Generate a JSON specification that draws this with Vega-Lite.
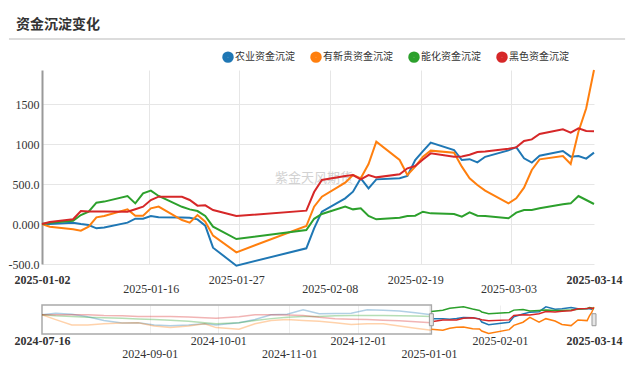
{
"$schema": "https://vega.github.io/schema/vega-lite/v6.json",
"background": "#ffffff",
"padding": {"left": 8, "top": 18, "right": 4, "bottom": 0},
"title": {"text": "资金沉淀变化", "anchor": "start", "frame": "bounds", "font": "Noto Sans CJK SC", "fontSize": 14, "fontWeight": "bold", "color": "#333333", "offset": 6, "dx": 8},
"config": {
  "view": {"stroke": null},
  "axis": {"labelFont": "Liberation Sans Narrow", "labelFontSize": 12, "labelColor": "#333333", "domain": false, "ticks": false, "grid": false, "labelFlush": false, "labelOverlap": false}
},
"datasets": {
  "main": [
    {"date":"2025-01-02","农业资金沉淀":0,"有新贵资金沉淀":0,"能化资金沉淀":0,"黑色资金沉淀":0},
    {"date":"2025-01-03","农业资金沉淀":0,"有新贵资金沉淀":-35,"能化资金沉淀":15,"黑色资金沉淀":25},
    {"date":"2025-01-06","农业资金沉淀":15,"有新贵资金沉淀":-65,"能化资金沉淀":40,"黑色资金沉淀":60},
    {"date":"2025-01-07","农业资金沉淀":0,"有新贵资金沉淀":-83,"能化资金沉淀":112,"黑色资金沉淀":162},
    {"date":"2025-01-08","农业资金沉淀":-12,"有新贵资金沉淀":-33,"能化资金沉淀":154,"黑色资金沉淀":155},
    {"date":"2025-01-09","农业资金沉淀":-54,"有新贵资金沉淀":83,"能化资金沉淀":267,"黑色资金沉淀":155},
    {"date":"2025-01-10","农业资金沉淀":-45,"有新贵资金沉淀":100,"能化资金沉淀":280,"黑色资金沉淀":155},
    {"date":"2025-01-13","农业资金沉淀":17,"有新贵资金沉淀":183,"能化资金沉淀":350,"黑色资金沉淀":154},
    {"date":"2025-01-14","农业资金沉淀":67,"有新贵资金沉淀":104,"能化资金沉淀":258,"黑色资金沉淀":185},
    {"date":"2025-01-15","农业资金沉淀":67,"有新贵资金沉淀":104,"能化资金沉淀":383,"黑色资金沉淀":217},
    {"date":"2025-01-16","农业资金沉淀":100,"有新贵资金沉淀":196,"能化资金沉淀":417,"黑色资金沉淀":300},
    {"date":"2025-01-17","农业资金沉淀":83,"有新贵资金沉淀":217,"能化资金沉淀":350,"黑色资金沉淀":342},
    {"date":"2025-01-20","农业资金沉淀":80,"有新贵资金沉淀":50,"能化资金沉淀":215,"黑色资金沉淀":340},
    {"date":"2025-01-21","农业资金沉淀":79,"有新贵资金沉淀":17,"能化资金沉淀":183,"黑色资金沉淀":300},
    {"date":"2025-01-22","农业资金沉淀":58,"有新贵资金沉淀":112,"能化资金沉淀":162,"黑色资金沉淀":229},
    {"date":"2025-01-23","农业资金沉淀":-21,"有新贵资金沉淀":29,"能化资金沉淀":100,"黑色资金沉淀":233},
    {"date":"2025-01-24","农业资金沉淀":-296,"有新贵资金沉淀":-146,"能化资金沉淀":-33,"黑色资金沉淀":175},
    {"date":"2025-01-27","农业资金沉淀":-521,"有新贵资金沉淀":-354,"能化资金沉淀":-188,"黑色资金沉淀":100},
    {"date":"2025-02-05","农业资金沉淀":-304,"有新贵资金沉淀":-25,"能化资金沉淀":-75,"黑色资金沉淀":167},
    {"date":"2025-02-06","农业资金沉淀":-54,"有新贵资金沉淀":217,"能化资金沉淀":65,"黑色资金沉淀":400},
    {"date":"2025-02-07","农业资金沉淀":154,"有新贵资金沉淀":342,"能化资金沉淀":125,"黑色资金沉淀":550},
    {"date":"2025-02-10","农业资金沉淀":321,"有新贵资金沉淀":517,"能化资金沉淀":217,"黑色资金沉淀":600},
    {"date":"2025-02-11","农业资金沉淀":404,"有新贵资金沉淀":612,"能化资金沉淀":183,"黑色资金沉淀":612},
    {"date":"2025-02-12","农业资金沉淀":571,"有新贵资金沉淀":571,"能化资金沉淀":196,"黑色资金沉淀":558},
    {"date":"2025-02-13","农业资金沉淀":446,"有新贵资金沉淀":750,"能化资金沉淀":100,"黑色资金沉淀":612},
    {"date":"2025-02-14","农业资金沉淀":558,"有新贵资金沉淀":1029,"能化资金沉淀":58,"黑色资金沉淀":583},
    {"date":"2025-02-17","农业资金沉淀":571,"有新贵资金沉淀":800,"能化资金沉淀":79,"黑色资金沉淀":621},
    {"date":"2025-02-18","农业资金沉淀":600,"有新贵资金沉淀":612,"能化资金沉淀":100,"黑色资金沉淀":696},
    {"date":"2025-02-19","农业资金沉淀":800,"有新贵资金沉淀":717,"能化资金沉淀":104,"黑色资金沉淀":725},
    {"date":"2025-02-20","农业资金沉淀":910,"有新贵资金沉淀":842,"能化资金沉淀":154,"黑色资金沉淀":805},
    {"date":"2025-02-21","农业资金沉淀":1017,"有新贵资金沉淀":917,"能化资金沉淀":133,"黑色资金沉淀":883},
    {"date":"2025-02-24","农业资金沉淀":925,"有新贵资金沉淀":892,"能化资金沉淀":125,"黑色资金沉淀":842},
    {"date":"2025-02-25","农业资金沉淀":800,"有新贵资金沉淀":717,"能化资金沉淀":92,"黑色资金沉淀":845},
    {"date":"2025-02-26","农业资金沉淀":810,"有新贵资金沉淀":571,"能化资金沉淀":146,"黑色资金沉淀":865},
    {"date":"2025-02-27","农业资金沉淀":770,"有新贵资金沉淀":487,"能化资金沉淀":104,"黑色资金沉淀":900},
    {"date":"2025-02-28","农业资金沉淀":840,"有新贵资金沉淀":417,"能化资金沉淀":100,"黑色资金沉淀":905},
    {"date":"2025-03-03","农业资金沉淀":920,"有新贵资金沉淀":258,"能化资金沉淀":71,"黑色资金沉淀":940},
    {"date":"2025-03-04","农业资金沉淀":960,"有新贵资金沉淀":321,"能化资金沉淀":142,"黑色资金沉淀":958},
    {"date":"2025-03-05","农业资金沉淀":821,"有新贵资金沉淀":454,"能化资金沉淀":175,"黑色资金沉淀":1037},
    {"date":"2025-03-06","农业资金沉淀":767,"有新贵资金沉淀":675,"能化资金沉淀":175,"黑色资金沉淀":1058},
    {"date":"2025-03-07","农业资金沉淀":854,"有新贵资金沉淀":808,"能化资金沉淀":196,"黑色资金沉淀":1125},
    {"date":"2025-03-10","农业资金沉淀":912,"有新贵资金沉淀":850,"能化资金沉淀":246,"黑色资金沉淀":1183},
    {"date":"2025-03-11","农业资金沉淀":842,"有新贵资金沉淀":750,"能化资金沉淀":258,"黑色资金沉淀":1142},
    {"date":"2025-03-12","农业资金沉淀":850,"有新贵资金沉淀":1154,"能化资金沉淀":350,"黑色资金沉淀":1196},
    {"date":"2025-03-13","农业资金沉淀":817,"有新贵资金沉淀":1446,"能化资金沉淀":300,"黑色资金沉淀":1162},
    {"date":"2025-03-14","农业资金沉淀":892,"有新贵资金沉淀":1925,"能化资金沉淀":250,"黑色资金沉淀":1158}
  ],
  "ov": [
    {"date":"2024-07-16","part":"bg","农业资金沉淀":0,"有新贵资金沉淀":0,"能化资金沉淀":0,"黑色资金沉淀":0},
    {"date":"2024-07-22","part":"bg","农业资金沉淀":138,"有新贵资金沉淀":-413,"能化资金沉淀":-83,"黑色资金沉淀":0},
    {"date":"2024-07-29","part":"bg","农业资金沉淀":55,"有新贵资金沉淀":-880,"能化资金沉淀":-138,"黑色资金沉淀":0},
    {"date":"2024-08-05","part":"bg","农业资金沉淀":-165,"有新贵资金沉淀":-880,"能化资金沉淀":-220,"黑色资金沉淀":0},
    {"date":"2024-08-12","part":"bg","农业资金沉淀":-495,"有新贵资金沉淀":-770,"能化资金沉淀":-248,"黑色资金沉淀":-55},
    {"date":"2024-08-20","part":"bg","农业资金沉淀":-715,"有新贵资金沉淀":-715,"能化资金沉淀":-303,"黑色资金沉淀":-83},
    {"date":"2024-08-27","part":"bg","农业资金沉淀":-688,"有新贵资金沉淀":-688,"能化资金沉淀":-358,"黑色资金沉淀":-138},
    {"date":"2024-09-03","part":"bg","农业资金沉淀":-880,"有新贵资金沉淀":-963,"能化资金沉淀":-413,"黑色资金沉淀":-138},
    {"date":"2024-09-10","part":"bg","农业资金沉淀":-935,"有新贵资金沉淀":-1100,"能化资金沉淀":-468,"黑色资金沉淀":-138},
    {"date":"2024-09-18","part":"bg","农业资金沉淀":-880,"有新贵资金沉淀":-963,"能化资金沉淀":-550,"黑色资金沉淀":-193},
    {"date":"2024-09-25","part":"bg","农业资金沉淀":-770,"有新贵资金沉淀":-770,"能化资金沉淀":-688,"黑色资金沉淀":-248},
    {"date":"2024-09-30","part":"bg","农业资金沉淀":-880,"有新贵资金沉淀":-1100,"能化资金沉淀":-770,"黑色资金沉淀":-303},
    {"date":"2024-10-10","part":"bg","农业资金沉淀":-688,"有新贵资金沉淀":-1238,"能化资金沉淀":-688,"黑色资金沉淀":-165},
    {"date":"2024-10-17","part":"bg","农业资金沉淀":-413,"有新贵资金沉淀":-770,"能化资金沉淀":-495,"黑色资金沉淀":0},
    {"date":"2024-10-24","part":"bg","农业资金沉淀":0,"有新贵资金沉淀":-495,"能化资金沉淀":-330,"黑色资金沉淀":0},
    {"date":"2024-10-31","part":"bg","农业资金沉淀":55,"有新贵资金沉淀":-413,"能化资金沉淀":-220,"黑色资金沉淀":-28},
    {"date":"2024-11-07","part":"bg","农业资金沉淀":440,"有新贵资金沉淀":-495,"能化资金沉淀":-138,"黑色资金沉淀":-55},
    {"date":"2024-11-14","part":"bg","农业资金沉淀":83,"有新贵资金沉淀":-550,"能化资金沉淀":-138,"黑色资金沉淀":-220},
    {"date":"2024-11-21","part":"bg","农业资金沉淀":110,"有新贵资金沉淀":-688,"能化资金沉淀":-83,"黑色资金沉淀":-330},
    {"date":"2024-11-28","part":"bg","农业资金沉淀":138,"有新贵资金沉淀":-825,"能化资金沉淀":-55,"黑色资金沉淀":-385},
    {"date":"2024-12-05","part":"bg","农业资金沉淀":440,"有新贵资金沉淀":-770,"能化资金沉淀":-55,"黑色资金沉淀":-413},
    {"date":"2024-12-12","part":"bg","农业资金沉淀":385,"有新贵资金沉淀":-770,"能化资金沉淀":-55,"黑色资金沉淀":-468},
    {"date":"2024-12-19","part":"bg","农业资金沉淀":330,"有新贵资金沉淀":-963,"能化资金沉淀":-83,"黑色资金沉淀":-523},
    {"date":"2024-12-26","part":"bg","农业资金沉淀":165,"有新贵资金沉淀":-1155,"能化资金沉淀":-110,"黑色资金沉淀":-605},
    {"date":"2025-01-02","part":"bg","农业资金沉淀":0,"有新贵资金沉淀":-1320,"能化资金沉淀":-138,"黑色资金沉淀":-688},
    {"date":"2025-01-02","part":"sel","农业资金沉淀":-330,"有新贵资金沉淀":-1250,"能化资金沉淀":275,"黑色资金沉淀":-605},
    {"date":"2025-01-07","part":"sel","农业资金沉淀":-330,"有新贵资金沉淀":-1333,"能化资金沉淀":387,"黑色资金沉淀":-443},
    {"date":"2025-01-10","part":"sel","农业资金沉淀":-375,"有新贵资金沉淀":-1150,"能化资金沉淀":555,"黑色资金沉淀":-450},
    {"date":"2025-01-13","part":"sel","农业资金沉淀":-313,"有新贵资金沉淀":-1067,"能化资金沉淀":625,"黑色资金沉淀":-451},
    {"date":"2025-01-16","part":"sel","农业资金沉淀":-230,"有新贵资金沉淀":-1054,"能化资金沉淀":692,"黑色资金沉淀":-305},
    {"date":"2025-01-20","part":"sel","农业资金沉淀":-250,"有新贵资金沉淀":-1200,"能化资金沉淀":490,"黑色资金沉淀":-265},
    {"date":"2025-01-23","part":"sel","农业资金沉淀":-351,"有新贵资金沉淀":-1221,"能化资金沉淀":375,"黑色资金沉淀":-372},
    {"date":"2025-01-24","part":"sel","农业资金沉淀":-626,"有新贵资金沉淀":-1396,"能化资金沉淀":242,"黑色资金沉淀":-430},
    {"date":"2025-01-27","part":"sel","农业资金沉淀":-851,"有新贵资金沉淀":-1604,"能化资金沉淀":87,"黑色资金沉淀":-505},
    {"date":"2025-02-05","part":"sel","农业资金沉淀":-634,"有新贵资金沉淀":-1275,"能化资金沉淀":200,"黑色资金沉淀":-438},
    {"date":"2025-02-07","part":"sel","农业资金沉淀":-176,"有新贵资金沉淀":-908,"能化资金沉淀":400,"黑色资金沉淀":-55},
    {"date":"2025-02-11","part":"sel","农业资金沉淀":74,"有新贵资金沉淀":-638,"能化资金沉淀":458,"黑色资金沉淀":7},
    {"date":"2025-02-14","part":"sel","农业资金沉淀":228,"有新贵资金沉淀":-221,"能化资金沉淀":333,"黑色资金沉淀":-22},
    {"date":"2025-02-18","part":"sel","农业资金沉淀":270,"有新贵资金沉淀":-638,"能化资金沉淀":375,"黑色资金沉淀":91},
    {"date":"2025-02-21","part":"sel","农业资金沉淀":687,"有新贵资金沉淀":-333,"能化资金沉淀":408,"黑色资金沉淀":278},
    {"date":"2025-02-25","part":"sel","农业资金沉淀":470,"有新贵资金沉淀":-533,"能化资金沉淀":367,"黑色资金沉淀":240},
    {"date":"2025-02-28","part":"sel","农业资金沉淀":510,"有新贵资金沉淀":-833,"能化资金沉淀":375,"黑色资金沉淀":300},
    {"date":"2025-03-04","part":"sel","农业资金沉淀":630,"有新贵资金沉淀":-929,"能化资金沉淀":417,"黑色资金沉淀":353},
    {"date":"2025-03-07","part":"sel","农业资金沉淀":524,"有新贵资金沉淀":-442,"能化资金沉淀":471,"黑色资金沉淀":520},
    {"date":"2025-03-11","part":"sel","农业资金沉淀":512,"有新贵资金沉淀":-500,"能化资金沉淀":533,"黑色资金沉淀":537},
    {"date":"2025-03-12","part":"sel","农业资金沉淀":520,"有新贵资金沉淀":-96,"能化资金沉淀":625,"黑色资金沉淀":591},
    {"date":"2025-03-13","part":"sel","农业资金沉淀":487,"有新贵资金沉淀":196,"能化资金沉淀":575,"黑色资金沉淀":557},
    {"date":"2025-03-14","part":"sel","农业资金沉淀":562,"有新贵资金沉淀":675,"能化资金沉淀":525,"黑色资金沉淀":553}
  ]
},
"bounds": "flush",
"spacing": 41,
"vconcat": [
  {
    "width": 552,
    "height": 194,
    "resolve": {"axis": {"x": "independent", "y": "independent"}},
    "layer": [
      {
        "data": {"values": [{"date": "2025-02-06", "v": 575, "t": "紫金天风期货"}]},
        "mark": {"type": "text", "font": "Noto Sans CJK SC", "fontSize": 13, "color": "#d2d2d2"},
        "encoding": {
          "x": {"field": "date", "type": "temporal", "title": null,
                "scale": {"type": "utc", "domain": [{"year": 2025, "month": 1, "date": 2, "utc": true}, {"year": 2025, "month": 3, "date": 14, "utc": true}]},
                "axis": {"orient": "bottom", "labels": false, "grid": true, "gridColor": "#e6e6e6",
                         "values": [{"year": 2025, "month": 1, "date": 15, "hours": 17, "minutes": 30, "utc": true}, {"year": 2025, "month": 1, "date": 27, "hours": 7, "minutes": 40, "utc": true}, {"year": 2025, "month": 2, "date": 8, "hours": 1, "minutes": 40, "utc": true}, {"year": 2025, "month": 2, "date": 19, "hours": 17, "minutes": 45, "utc": true}, {"year": 2025, "month": 3, "date": 3, "hours": 8, "minutes": 40, "utc": true}]}},
          "y": {"field": "v", "type": "quantitative", "title": null,
                "scale": {"domain": [-500, 1925], "nice": false, "zero": false},
                "axis": {"orient": "left", "values": [-500, 0, 500, 1000, 1500], "grid": true, "gridColor": "#e6e6e6", "domain": true, "domainColor": "#999999", "domainWidth": 2, "labelPadding": 3,
                         "labelExpr": "datum.value == 0 ? '0.000' : datum.value == 500 ? '500.0' : datum.value == -500 ? '-500.0' : datum.value == 1000 ? '1000' : '1500'"}},
          "text": {"field": "t"}
        }
      },
      {
        "data": {"values": [{"from": "2024-12-28T18:00:00Z", "to": "2025-03-18T00:00:00Z", "lvl": 2312}]},
        "mark": {"type": "rule", "color": "#d0d0d0", "strokeWidth": 1.5, "clip": false},
        "encoding": {
          "x": {"field": "from", "type": "temporal", "axis": null},
          "x2": {"field": "to"},
          "y": {"field": "lvl", "type": "quantitative", "axis": null}
        }
      },
      {
        "data": {"name": "main"},
        "transform": [{"fold": ["农业资金沉淀", "有新贵资金沉淀", "能化资金沉淀", "黑色资金沉淀"], "as": ["series", "value"]}],
        "mark": {"type": "line", "strokeWidth": 2},
        "encoding": {
          "x": {"field": "date", "type": "temporal", "title": null,
                "axis": {"orient": "bottom", "format": "%Y-%m-%d", "labelPadding": 10.8,
                         "values": [{"year": 2025, "month": 1, "date": 2, "utc": true}, {"year": 2025, "month": 1, "date": 27, "utc": true}, {"year": 2025, "month": 2, "date": 19, "utc": true}, {"year": 2025, "month": 3, "date": 14, "utc": true}],
                         "labelFontWeight": {"condition": {"test": "datum.index == 0 || datum.index == 1", "value": "bold"}, "value": "normal"}}},
          "y": {"field": "value", "type": "quantitative", "axis": null},
          "color": {"field": "series", "type": "nominal",
                    "scale": {"domain": ["农业资金沉淀", "有新贵资金沉淀", "能化资金沉淀", "黑色资金沉淀"], "range": ["#1f77b4", "#ff7f0e", "#2ca02c", "#d62728"]},
                    "legend": {"orient": "none", "legendX": 180, "legendY": -19, "direction": "horizontal", "title": null, "symbolType": "circle", "symbolSize": 30, "symbolStrokeWidth": 6, "labelFont": "Noto Sans CJK SC", "labelFontSize": 10, "labelColor": "#333333", "columnPadding": 6, "labelOffset": 1}}
        }
      },
      {
        "data": {"values": [{"date": "2025-02-06", "v": 575}]},
        "mark": {"type": "point", "opacity": 0},
        "encoding": {
          "x": {"field": "date", "type": "temporal", "title": null,
                "axis": {"orient": "bottom", "format": "%Y-%m-%d", "labelPadding": 19.8,
                         "values": [{"year": 2025, "month": 1, "date": 16, "utc": true}, {"year": 2025, "month": 2, "date": 8, "utc": true}, {"year": 2025, "month": 3, "date": 3, "utc": true}]}},
          "y": {"field": "v", "type": "quantitative", "axis": null}
        }
      }
    ]
  },
  {
    "width": 552,
    "height": 29,
    "resolve": {"axis": {"x": "independent", "y": "independent"}},
    "layer": [
      {
        "data": {"values": [{"a": "2024-07-16", "b": "2025-01-02"}]},
        "mark": {"type": "rect", "filled": false, "color": "#a9a9a9", "strokeWidth": 1.5},
        "encoding": {
          "x": {"field": "a", "type": "temporal", "title": null,
                "scale": {"type": "utc", "domain": [{"year": 2024, "month": 7, "date": 16, "utc": true}, {"year": 2025, "month": 3, "date": 14, "utc": true}]},
                "axis": {"orient": "bottom", "format": "%Y-%m-%d", "labelPadding": 1.5,
                         "values": [{"year": 2024, "month": 7, "date": 16, "utc": true}, {"year": 2024, "month": 10, "date": 1, "utc": true}, {"year": 2024, "month": 12, "date": 1, "utc": true}, {"year": 2025, "month": 2, "date": 1, "utc": true}, {"year": 2025, "month": 3, "date": 14, "utc": true}],
                         "labelFontWeight": {"condition": {"test": "datum.index == 0 || datum.index == 1", "value": "bold"}, "value": "normal"}}},
          "x2": {"field": "b"},
          "y": {"datum": 840, "type": "quantitative", "scale": {"domain": [-1650, 840], "nice": false, "zero": false}, "axis": null},
          "y2": {"datum": -1650}
        }
      },
      {
        "data": {"name": "ov"},
        "transform": [{"fold": ["农业资金沉淀", "有新贵资金沉淀", "能化资金沉淀", "黑色资金沉淀"], "as": ["series", "value"]}],
        "mark": {"type": "line", "strokeWidth": 1.5},
        "encoding": {
          "x": {"field": "date", "type": "temporal", "title": null,
                "axis": {"orient": "bottom", "format": "%Y-%m-%d", "labelPadding": 14,
                         "values": [{"year": 2024, "month": 9, "date": 1, "utc": true}, {"year": 2024, "month": 11, "date": 1, "utc": true}, {"year": 2025, "month": 1, "date": 1, "utc": true}]}},
          "y": {"field": "value", "type": "quantitative", "axis": null},
          "color": {"field": "series", "type": "nominal", "legend": null,
                    "scale": {"domain": ["农业资金沉淀", "有新贵资金沉淀", "能化资金沉淀", "黑色资金沉淀"], "range": ["#1f77b4", "#ff7f0e", "#2ca02c", "#d62728"]}},
          "opacity": {"field": "part", "type": "nominal", "legend": null, "scale": {"domain": ["bg", "sel"], "range": [0.35, 1]}}
        }
      },
      {
        "data": {"values": [{"d": "2025-01-02"}, {"d": "2025-03-14"}]},
        "mark": {"type": "tick", "orient": "vertical", "size": 12, "thickness": 4, "color": "#e6e6e6", "stroke": "#999999", "strokeWidth": 1, "opacity": 1},
        "encoding": {
          "x": {"field": "d", "type": "temporal", "title": null,
                "axis": {"orient": "bottom", "labels": false, "grid": true, "gridColor": "#eeeeee",
                         "values": [{"year": 2024, "month": 9, "date": 1, "utc": true}, {"year": 2024, "month": 10, "date": 1, "utc": true}, {"year": 2024, "month": 11, "date": 1, "utc": true}, {"year": 2024, "month": 12, "date": 1, "utc": true}, {"year": 2025, "month": 1, "date": 1, "utc": true}, {"year": 2025, "month": 2, "date": 1, "utc": true}]}},
          "y": {"datum": -425, "type": "quantitative", "axis": null}
        }
      }
    ]
  }
],
"resolve": {"scale": {"color": "independent", "opacity": "independent"}, "legend": {"color": "independent"}}
}
